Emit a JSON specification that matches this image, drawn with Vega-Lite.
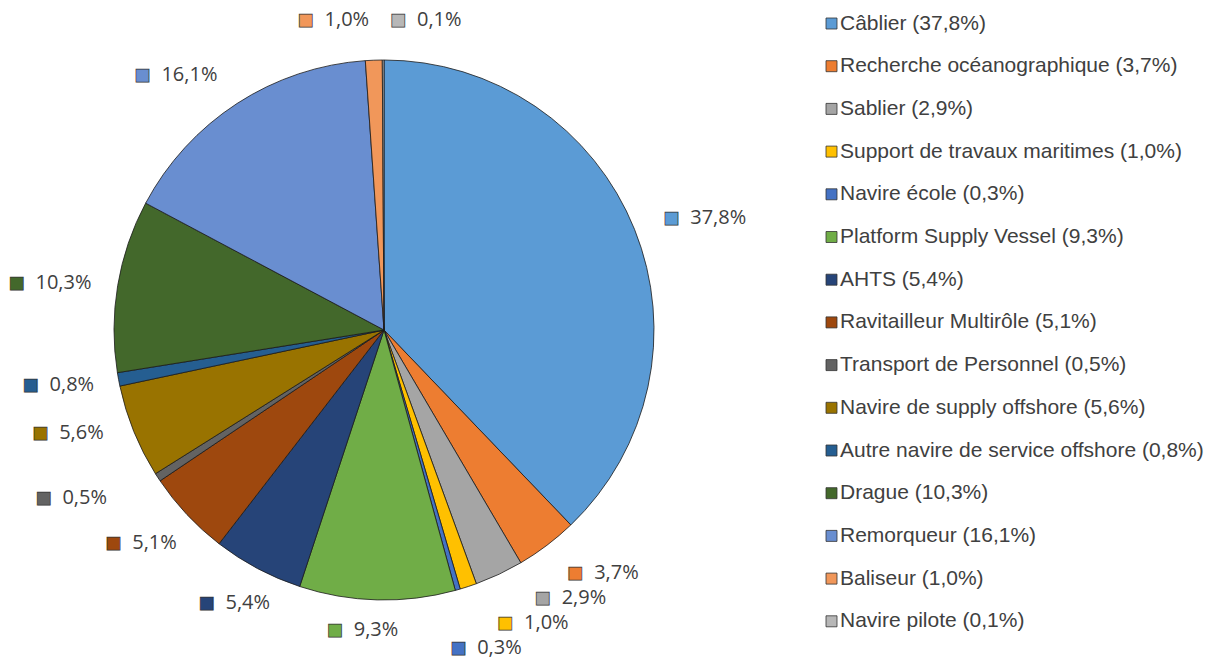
{
  "$schema": "https://vega.github.io/schema/vega-lite/v6.json",
  "width": 768,
  "height": 660,
  "autosize": "none",
  "padding": {"left": 0, "top": 0, "right": 457, "bottom": 1},
  "background": "white",
  "config": {"view": {"stroke": null}, "legend": {"padding": 0}},
  "data": {"values": [
    {"i": 1, "cat": "Câblier", "v": 37.8, "lbl": "37,8%", "leg": "Câblier (37,8%)"},
    {"i": 2, "cat": "Recherche océanographique", "v": 3.7, "lbl": "3,7%", "leg": "Recherche océanographique (3,7%)"},
    {"i": 3, "cat": "Sablier", "v": 2.9, "lbl": "2,9%", "leg": "Sablier (2,9%)"},
    {"i": 4, "cat": "Support de travaux maritimes", "v": 1.0, "lbl": "1,0%", "leg": "Support de travaux maritimes (1,0%)"},
    {"i": 5, "cat": "Navire école", "v": 0.3, "lbl": "0,3%", "leg": "Navire école (0,3%)"},
    {"i": 6, "cat": "Platform Supply Vessel", "v": 9.3, "lbl": "9,3%", "leg": "Platform Supply Vessel (9,3%)"},
    {"i": 7, "cat": "AHTS", "v": 5.4, "lbl": "5,4%", "leg": "AHTS (5,4%)"},
    {"i": 8, "cat": "Ravitailleur Multirôle", "v": 5.1, "lbl": "5,1%", "leg": "Ravitailleur Multirôle (5,1%)"},
    {"i": 9, "cat": "Transport de Personnel", "v": 0.5, "lbl": "0,5%", "leg": "Transport de Personnel (0,5%)"},
    {"i": 10, "cat": "Navire de supply offshore", "v": 5.6, "lbl": "5,6%", "leg": "Navire de supply offshore (5,6%)"},
    {"i": 11, "cat": "Autre navire de service offshore", "v": 0.8, "lbl": "0,8%", "leg": "Autre navire de service offshore (0,8%)"},
    {"i": 12, "cat": "Drague", "v": 10.3, "lbl": "10,3%", "leg": "Drague (10,3%)"},
    {"i": 13, "cat": "Remorqueur", "v": 16.1, "lbl": "16,1%", "leg": "Remorqueur (16,1%)"},
    {"i": 14, "cat": "Baliseur", "v": 1.0, "lbl": "1,0%", "leg": "Baliseur (1,0%)"},
    {"i": 15, "cat": "Navire pilote", "v": 0.1, "lbl": "0,1%", "leg": "Navire pilote (0,1%)"}
  ]},
  "encoding": {
    "theta": {"field": "v", "type": "quantitative", "stack": true},
    "order": {"field": "i", "type": "quantitative"},
    "color": {
      "field": "leg", "type": "nominal",
      "scale": {
        "domain": ["Câblier (37,8%)", "Recherche océanographique (3,7%)", "Sablier (2,9%)", "Support de travaux maritimes (1,0%)", "Navire école (0,3%)", "Platform Supply Vessel (9,3%)", "AHTS (5,4%)", "Ravitailleur Multirôle (5,1%)", "Transport de Personnel (0,5%)", "Navire de supply offshore (5,6%)", "Autre navire de service offshore (0,8%)", "Drague (10,3%)", "Remorqueur (16,1%)", "Baliseur (1,0%)", "Navire pilote (0,1%)"],
        "range": ["#5B9BD5", "#ED7D31", "#A5A5A5", "#FFC000", "#4472C4", "#70AD47", "#264478", "#9E480E", "#636363", "#997300", "#255E91", "#43682B", "#698ED0", "#F1975A", "#B7B7B7"]
      },
      "legend": {
        "title": null, "orient": "none", "legendX": 821, "legendY": 13, "direction": "vertical",
        "symbolType": "square", "symbolSize": 121, "symbolStrokeColor": "#333333", "symbolStrokeWidth": 0.8,
        "labelFont": "Liberation Sans", "labelFontSize": 21, "labelColor": "#404040", "labelLimit": 500,
        "rowPadding": 20.7, "labelOffset": -2
      }
    }
  },
  "layer": [
    {"mark": {"type": "arc", "outerRadius": 270, "stroke": "#1a1a1a", "strokeWidth": 0.8}},

    {"mark": {"type": "text", "radius": 330, "dx": -19, "dy": 11, "font": "DejaVu Sans", "fontSize": 17, "baseline": "middle", "align": "center", "stroke": "#333333", "strokeWidth": 0.7},
     "encoding": {"text": {"condition": {"test": "datum.i === 1", "value": "■"}, "value": ""}}},
    {"mark": {"type": "text", "radius": 330, "dx": 0, "dy": 11, "align": "left", "baseline": "middle", "font": "Open Sans", "fontSize": 20},
     "encoding": {"color": {"value": "#404040"}, "text": {"condition": {"test": "datum.i === 1", "field": "lbl"}, "value": ""}}},

    {"mark": {"type": "text", "radius": 330, "dx": -8, "dy": -20, "font": "DejaVu Sans", "fontSize": 17, "baseline": "middle", "align": "center", "stroke": "#333333", "strokeWidth": 0.7},
     "encoding": {"text": {"condition": {"test": "datum.i === 2", "value": "■"}, "value": ""}}},
    {"mark": {"type": "text", "radius": 330, "dx": 11, "dy": -20, "align": "left", "baseline": "middle", "font": "Open Sans", "fontSize": 20},
     "encoding": {"color": {"value": "#404040"}, "text": {"condition": {"test": "datum.i === 2", "field": "lbl"}, "value": ""}}},

    {"mark": {"type": "text", "radius": 330, "dx": 18, "dy": -31, "font": "DejaVu Sans", "fontSize": 17, "baseline": "middle", "align": "center", "stroke": "#333333", "strokeWidth": 0.7},
     "encoding": {"text": {"condition": {"test": "datum.i === 3", "value": "■"}, "value": ""}}},
    {"mark": {"type": "text", "radius": 330, "dx": 37, "dy": -31, "align": "left", "baseline": "middle", "font": "Open Sans", "fontSize": 20},
     "encoding": {"color": {"value": "#404040"}, "text": {"condition": {"test": "datum.i === 3", "field": "lbl"}, "value": ""}}},

    {"mark": {"type": "text", "radius": 330, "dx": 18, "dy": -20, "font": "DejaVu Sans", "fontSize": 17, "baseline": "middle", "align": "center", "stroke": "#333333", "strokeWidth": 0.7},
     "encoding": {"text": {"condition": {"test": "datum.i === 4", "value": "■"}, "value": ""}}},
    {"mark": {"type": "text", "radius": 330, "dx": 37, "dy": -20, "align": "left", "baseline": "middle", "font": "Open Sans", "fontSize": 20},
     "encoding": {"color": {"value": "#404040"}, "text": {"condition": {"test": "datum.i === 4", "field": "lbl"}, "value": ""}}},

    {"mark": {"type": "text", "radius": 330, "dx": -16, "dy": 1, "font": "DejaVu Sans", "fontSize": 17, "baseline": "middle", "align": "center", "stroke": "#333333", "strokeWidth": 0.7},
     "encoding": {"text": {"condition": {"test": "datum.i === 5", "value": "■"}, "value": ""}}},
    {"mark": {"type": "text", "radius": 330, "dx": 3, "dy": 1, "align": "left", "baseline": "middle", "font": "Open Sans", "fontSize": 20},
     "encoding": {"color": {"value": "#404040"}, "text": {"condition": {"test": "datum.i === 5", "field": "lbl"}, "value": ""}}},

    {"mark": {"type": "text", "radius": 330, "dx": -41, "dy": -30, "font": "DejaVu Sans", "fontSize": 17, "baseline": "middle", "align": "center", "stroke": "#333333", "strokeWidth": 0.7},
     "encoding": {"text": {"condition": {"test": "datum.i === 6", "value": "■"}, "value": ""}}},
    {"mark": {"type": "text", "radius": 330, "dx": -22, "dy": -30, "align": "left", "baseline": "middle", "font": "Open Sans", "fontSize": 20},
     "encoding": {"color": {"value": "#404040"}, "text": {"condition": {"test": "datum.i === 6", "field": "lbl"}, "value": ""}}},

    {"mark": {"type": "text", "radius": 330, "dx": -23, "dy": -19, "font": "DejaVu Sans", "fontSize": 17, "baseline": "middle", "align": "center", "stroke": "#333333", "strokeWidth": 0.7},
     "encoding": {"text": {"condition": {"test": "datum.i === 7", "value": "■"}, "value": ""}}},
    {"mark": {"type": "text", "radius": 330, "dx": -4, "dy": -19, "align": "left", "baseline": "middle", "font": "Open Sans", "fontSize": 20},
     "encoding": {"color": {"value": "#404040"}, "text": {"condition": {"test": "datum.i === 7", "field": "lbl"}, "value": ""}}},

    {"mark": {"type": "text", "radius": 330, "dx": -30, "dy": -13, "font": "DejaVu Sans", "fontSize": 17, "baseline": "middle", "align": "center", "stroke": "#333333", "strokeWidth": 0.7},
     "encoding": {"text": {"condition": {"test": "datum.i === 8", "value": "■"}, "value": ""}}},
    {"mark": {"type": "text", "radius": 330, "dx": -11, "dy": -13, "align": "left", "baseline": "middle", "font": "Open Sans", "fontSize": 20},
     "encoding": {"color": {"value": "#404040"}, "text": {"condition": {"test": "datum.i === 8", "field": "lbl"}, "value": ""}}},

    {"mark": {"type": "text", "radius": 330, "dx": -64, "dy": -12, "font": "DejaVu Sans", "fontSize": 17, "baseline": "middle", "align": "center", "stroke": "#333333", "strokeWidth": 0.7},
     "encoding": {"text": {"condition": {"test": "datum.i === 9", "value": "■"}, "value": ""}}},
    {"mark": {"type": "text", "radius": 330, "dx": -45, "dy": -12, "align": "left", "baseline": "middle", "font": "Open Sans", "fontSize": 20},
     "encoding": {"color": {"value": "#404040"}, "text": {"condition": {"test": "datum.i === 9", "field": "lbl"}, "value": ""}}},

    {"mark": {"type": "text", "radius": 330, "dx": -38, "dy": -21, "font": "DejaVu Sans", "fontSize": 17, "baseline": "middle", "align": "center", "stroke": "#333333", "strokeWidth": 0.7},
     "encoding": {"text": {"condition": {"test": "datum.i === 10", "value": "■"}, "value": ""}}},
    {"mark": {"type": "text", "radius": 330, "dx": -19, "dy": -21, "align": "left", "baseline": "middle", "font": "Open Sans", "fontSize": 20},
     "encoding": {"color": {"value": "#404040"}, "text": {"condition": {"test": "datum.i === 10", "field": "lbl"}, "value": ""}}},

    {"mark": {"type": "text", "radius": 330, "dx": -29, "dy": -5, "font": "DejaVu Sans", "fontSize": 17, "baseline": "middle", "align": "center", "stroke": "#333333", "strokeWidth": 0.7},
     "encoding": {"text": {"condition": {"test": "datum.i === 11", "value": "■"}, "value": ""}}},
    {"mark": {"type": "text", "radius": 330, "dx": -10, "dy": -5, "align": "left", "baseline": "middle", "font": "Open Sans", "fontSize": 20},
     "encoding": {"color": {"value": "#404040"}, "text": {"condition": {"test": "datum.i === 11", "field": "lbl"}, "value": ""}}},

    {"mark": {"type": "text", "radius": 330, "dx": -42, "dy": 7, "font": "DejaVu Sans", "fontSize": 17, "baseline": "middle", "align": "center", "stroke": "#333333", "strokeWidth": 0.7},
     "encoding": {"text": {"condition": {"test": "datum.i === 12", "value": "■"}, "value": ""}}},
    {"mark": {"type": "text", "radius": 330, "dx": -23, "dy": 7, "align": "left", "baseline": "middle", "font": "Open Sans", "fontSize": 20},
     "encoding": {"color": {"value": "#404040"}, "text": {"condition": {"test": "datum.i === 12", "field": "lbl"}, "value": ""}}},

    {"mark": {"type": "text", "radius": 330, "dx": -62, "dy": 22, "font": "DejaVu Sans", "fontSize": 17, "baseline": "middle", "align": "center", "stroke": "#333333", "strokeWidth": 0.7},
     "encoding": {"text": {"condition": {"test": "datum.i === 13", "value": "■"}, "value": ""}}},
    {"mark": {"type": "text", "radius": 330, "dx": -43, "dy": 22, "align": "left", "baseline": "middle", "font": "Open Sans", "fontSize": 20},
     "encoding": {"color": {"value": "#404040"}, "text": {"condition": {"test": "datum.i === 13", "field": "lbl"}, "value": ""}}},

    {"mark": {"type": "text", "radius": 330, "dx": -66, "dy": 20, "font": "DejaVu Sans", "fontSize": 17, "baseline": "middle", "align": "center", "stroke": "#333333", "strokeWidth": 0.7},
     "encoding": {"text": {"condition": {"test": "datum.i === 14", "value": "■"}, "value": ""}}},
    {"mark": {"type": "text", "radius": 330, "dx": -47, "dy": 20, "align": "left", "baseline": "middle", "font": "Open Sans", "fontSize": 20},
     "encoding": {"color": {"value": "#404040"}, "text": {"condition": {"test": "datum.i === 14", "field": "lbl"}, "value": ""}}},

    {"mark": {"type": "text", "radius": 330, "dx": 15, "dy": 20, "font": "DejaVu Sans", "fontSize": 17, "baseline": "middle", "align": "center", "stroke": "#333333", "strokeWidth": 0.7},
     "encoding": {"text": {"condition": {"test": "datum.i === 15", "value": "■"}, "value": ""}}},
    {"mark": {"type": "text", "radius": 330, "dx": 34, "dy": 20, "align": "left", "baseline": "middle", "font": "Open Sans", "fontSize": 20},
     "encoding": {"color": {"value": "#404040"}, "text": {"condition": {"test": "datum.i === 15", "field": "lbl"}, "value": ""}}}
  ]
}
